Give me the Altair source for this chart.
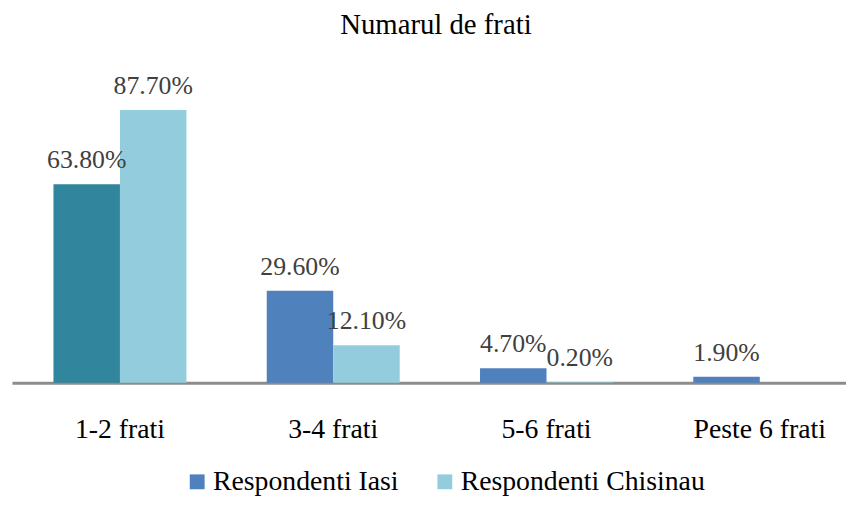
import altair as alt
import pandas as pd

categories = ["1-2 frati", "3-4 frati", "5-6 frati", "Peste 6 frati"]
iasi = [63.8, 29.6, 4.7, 1.9]
chisinau = [87.7, 12.1, 0.2]
series = ["Respondenti Iasi", "Respondenti Chisinau"]

rows = []
for i, c in enumerate(categories):
    rows.append({"cat": c, "series": series[0], "value": iasi[i], "hl": i == 0})
for i, v in enumerate(chisinau):
    rows.append({"cat": categories[i], "series": series[1], "value": v, "hl": False})
df = pd.DataFrame(rows)

FONT = "Liberation Serif"

base = alt.Chart(df).encode(
    x=alt.X("cat:N", sort=categories, title=None,
            scale=alt.Scale(paddingInner=0.3765, paddingOuter=0.1946, range=[0, 864]),
            axis=alt.Axis(labelAngle=0, ticks=False, labelFontSize=28, labelFont=FONT,
                          labelColor="#000000", labelPadding=33, domainColor="#8c8c8c",
                          domainWidth=3, grid=False, labelLimit=400)),
    xOffset=alt.XOffset("series:N", sort=series, scale=alt.Scale(domain=series, paddingInner=0)),
    y=alt.Y("value:Q", scale=alt.Scale(domain=[0, 100]), axis=None),
)

bars = base.mark_bar().encode(
    color=alt.condition(
        "datum.hl",
        alt.value("#31859C"),
        alt.Color("series:N", sort=series,
                  scale=alt.Scale(domain=series, range=["#4F81BD", "#93CDDD"]),
                  legend=alt.Legend(title=None, orient="none", direction="horizontal",
                                    legendX=173, legendY=400, symbolType="square",
                                    symbolSize=225, symbolStrokeWidth=0,
                                    labelFontSize=28, labelFont=FONT, labelColor="#000000",
                                    columnPadding=32, labelOffset=2, labelLimit=500)),
    )
)

labels = base.mark_text(baseline="alphabetic", dy=-16, fontSize=26, font=FONT, color="#404040").transform_calculate(
    label="format(datum.value, '.2f') + '%'"
).encode(text="label:N")

chart = (bars + labels).properties(
    width=842, height=314,
    title=alt.TitleParams("Numarul de frati", fontSize=29, font=FONT, fontWeight="normal",
                          color="#000000", offset=32, anchor="middle", dx=7),
    padding={"left": 4, "top": 62, "right": 0, "bottom": 116},
    autosize=alt.AutoSizeParams(type="none"),
).configure_view(stroke=None)

chart.save("out.html", embed_options={"renderer": "svg", "actions": False})
